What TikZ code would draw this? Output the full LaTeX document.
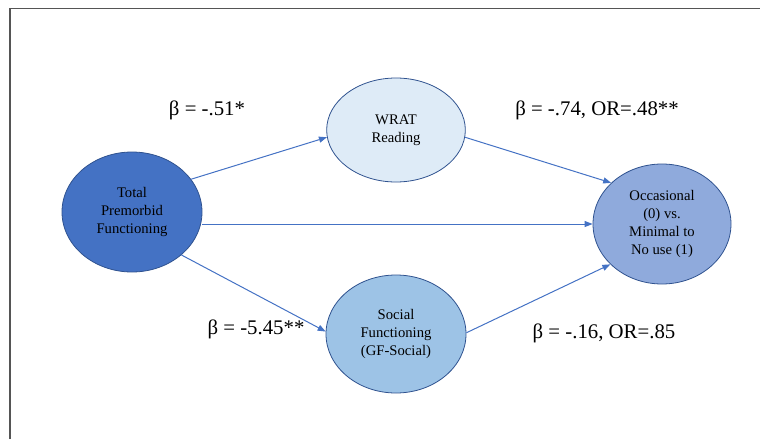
\documentclass[tikz,border=0pt]{standalone}
\usepackage{fontspec}
\setmainfont{Liberation Serif}
\usetikzlibrary{shapes.geometric,arrows.meta}
\definecolor{totalblue}{HTML}{4472C4}
\definecolor{wratblue}{HTML}{DEEBF7}
\definecolor{socialblue}{HTML}{9DC3E6}
\definecolor{outcomeblue}{HTML}{8FAADC}
\definecolor{edgeblue}{HTML}{2F528F}
\definecolor{lineblue}{HTML}{4472C4}
\definecolor{framegray}{HTML}{555555}

\begin{document}
\begin{tikzpicture}[x=0.75pt,y=0.75pt,yscale=-1,xscale=1,
  var/.style={ellipse,draw=edgeblue,line width=0.6pt,inner sep=0pt,align=center,font=\fontsize{11}{13.5}\selectfont},
  effect/.style={draw=lineblue,line width=0.75pt,-{Triangle[length=6pt,width=4.5pt]}},
  coef/.style={inner sep=0pt,font=\fontsize{15.6}{18}\selectfont}]
\useasboundingbox (0,0) rectangle (760,439);

%Frame
\draw [framegray,line width=1.1pt] (10,439) -- (10,8.5) -- (760,8.5) ;

%Shape: Ellipse
\node [var,fill=totalblue,minimum width=105pt,minimum height=90pt] (total) at (132,212) {Total\\Premorbid\\Functioning};
%Shape: Ellipse
\node [var,fill=wratblue,minimum width=104pt,minimum height=78pt] (wrat) at (396,130) {WRAT\\Reading};
%Shape: Ellipse
\node [var,fill=socialblue,minimum width=105pt,minimum height=88.5pt] (social) at (396,334) {Social\\Functioning\\(GF-Social)};
%Shape: Ellipse
\node [var,fill=outcomeblue,minimum width=103.5pt,minimum height=90pt] (use) at (662,224) {Occasional\\(0) vs.\\Minimal to\\No use (1)};

%Straight Lines
\draw [effect] (total.29) -- (wrat.186) ;
\draw [effect] (use.west -| total.east) -- (use.west) ;
\draw [effect] (total.-41) -- (social.178) ;
\draw [effect] (wrat.-6) -- (use.141) ;
\draw [effect] (social.1) -- (use.218) ;

% Text Node
\node [coef] (b1) at (207,110) {β = -.51*};
% Text Node
\node [coef] (b2) at (597,110) {β = -.74, OR=.48**};
% Text Node
\node [coef] (b3) at (256,329) {β = -5.45**};
% Text Node
\node [coef] (b4) at (604,333) {β = -.16, OR=.85};
\end{tikzpicture}
\end{document}
